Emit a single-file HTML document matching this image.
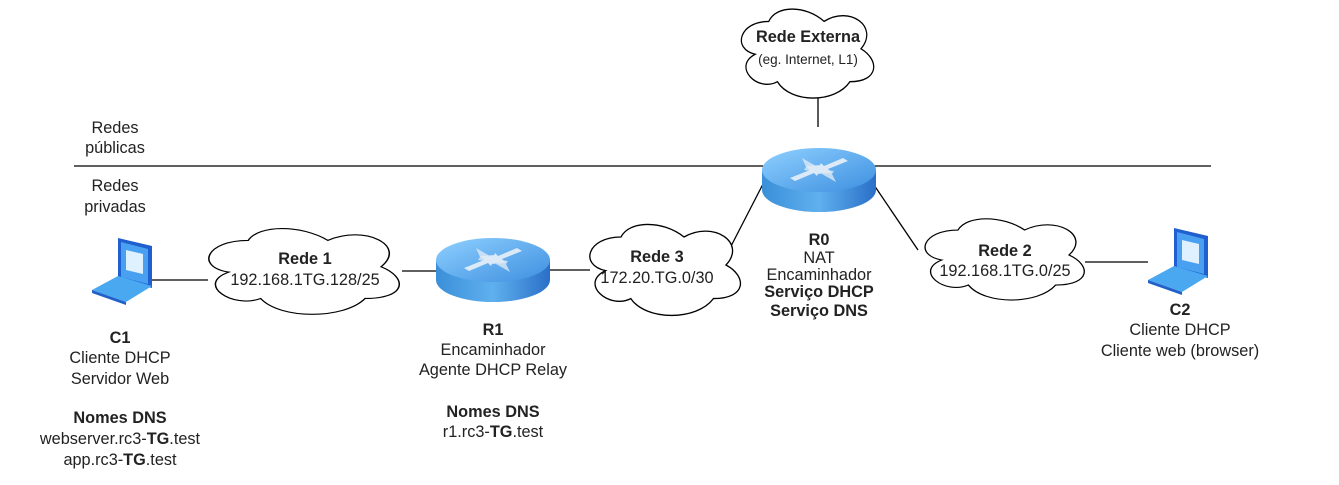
<!DOCTYPE html>
<html><head><meta charset="utf-8"><style>
body{margin:0;background:#fff;width:1339px;height:480px;overflow:hidden}
svg text{font-family:"Liberation Sans",Arial,sans-serif;font-size:16.3px;fill:#222}
.b{font-weight:bold}
</style></head><body>
<svg width="1339" height="480" viewBox="0 0 1339 480" xmlns="http://www.w3.org/2000/svg">
<defs>
<linearGradient id="rg" x1="0" x2="1" y1="0" y2="0">
<stop offset="0" stop-color="#3a8fd8"/><stop offset="0.5" stop-color="#5fb0ee"/><stop offset="1" stop-color="#2a6fc8"/></linearGradient>
<linearGradient id="rt" x1="0" x2="1" y1="0" y2="1">
<stop offset="0" stop-color="#8fd0ff"/><stop offset="1" stop-color="#3d8fe0"/></linearGradient>
<path id="cloud" d="M 25 20 C 1 20 -5 40 14 44 C -5 53 16 72 32 64 C 43 80 79 80 91 64 C 115 64 115 48 100 40 C 115 24 91 8 70 20 C 55 8 31 8 25 20 Z"/>
<g id="router">
<path d="M0 22 L0 42 A57 22 0 0 0 114 42 L114 22 Z" fill="url(#rg)"/>
<ellipse cx="57" cy="22" rx="57" ry="22" fill="url(#rt)"/>
<path d="M28 30 L48 22 L44 18 L60 17 L55 28 L52 25 L33 33 Z M86 13 L66 21 L70 25 L54 26 L59 15 L62 18 L81 10 Z" fill="#e8f0f8" opacity="0.9"/>
<path d="M40 10 L54 18 L50 20 L56 24 L42 22 L44 19 Z M74 34 L60 26 L64 24 L58 21 L72 23 L70 26 Z" fill="#dde8f4" opacity="0.8"/>
</g>
<g id="laptop">
<polygon points="26,0 60,8 60,50 26,42" fill="#1f5fd0"/>
<polygon points="29,4 56,11 56,46 29,39" fill="#4aa0f0"/>
<polygon points="34,12 51,16 51,36 34,32" fill="#dff0ff"/>
<polygon points="0,52 26,38 60,48 34,64" fill="#4aa8f0"/>
<polygon points="0,52 34,64 34,67 0,55" fill="#2060c8"/>
</g>
</defs>
<g fill="none" stroke="#000" stroke-width="1.3">
<line x1="74" y1="166" x2="1211" y2="166"/>
<line x1="818" y1="97" x2="818" y2="127"/>
<line x1="152" y1="280" x2="208" y2="280"/>
<line x1="402" y1="271" x2="436" y2="271"/>
<line x1="550" y1="270" x2="590" y2="270"/>
<line x1="728" y1="252" x2="763" y2="184"/>
<line x1="874" y1="185" x2="918" y2="250"/>
<line x1="1085" y1="262" x2="1148" y2="262"/>
</g>
<g fill="#fff" stroke="#000">
<use href="#cloud" transform="translate(738,-6) scale(1.23,1.37)" style="stroke-width:1"/>
<use href="#cloud" transform="translate(204,214) scale(1.77,1.32)" style="stroke-width:0.85"/>
<use href="#cloud" transform="translate(586,209) scale(1.4,1.4)" style="stroke-width:0.95"/>
<use href="#cloud" transform="translate(921,205) scale(1.48,1.25)" style="stroke-width:0.9"/>
</g>
<use href="#router" transform="translate(762,148)"/>
<use href="#router" transform="translate(436,238)"/>
<use href="#laptop" transform="translate(92,238)"/>
<use href="#laptop" transform="translate(1148,228)"/>
<g text-anchor="middle">
<text x="808" y="42" class="b">Rede Externa</text>
<text x="808" y="64" style="font-size:13.5px">(eg. Internet, L1)</text>
<text x="115" y="133">Redes</text><text x="115" y="153">públicas</text>
<text x="115" y="191">Redes</text><text x="115" y="212">privadas</text>
<text x="305" y="264" class="b">Rede 1</text>
<text x="305" y="285">192.168.1TG.128/25</text>
<text x="657" y="262" class="b">Rede 3</text>
<text x="657" y="283">172.20.TG.0/30</text>
<text x="1005" y="256" class="b">Rede 2</text>
<text x="1005" y="276">192.168.1TG.0/25</text>
<text x="819" y="245" class="b">R0</text>
<text x="819" y="263">NAT</text>
<text x="819" y="280">Encaminhador</text>
<text x="819" y="297" class="b">Serviço DHCP</text>
<text x="819" y="316" class="b">Serviço DNS</text>
<text x="493" y="335" class="b">R1</text>
<text x="493" y="355">Encaminhador</text>
<text x="493" y="375">Agente DHCP Relay</text>
<text x="493" y="417" class="b">Nomes DNS</text>
<text x="493" y="437">r1.rc3-<tspan class="b">TG</tspan>.test</text>
<text x="120" y="343" class="b">C1</text>
<text x="120" y="363">Cliente DHCP</text>
<text x="120" y="384">Servidor Web</text>
<text x="120" y="423" class="b">Nomes DNS</text>
<text x="120" y="444">webserver.rc3-<tspan class="b">TG</tspan>.test</text>
<text x="120" y="465">app.rc3-<tspan class="b">TG</tspan>.test</text>
<text x="1180" y="315" class="b">C2</text>
<text x="1180" y="335">Cliente DHCP</text>
<text x="1180" y="356">Cliente web (browser)</text>
</g>
</svg>
</body></html>
